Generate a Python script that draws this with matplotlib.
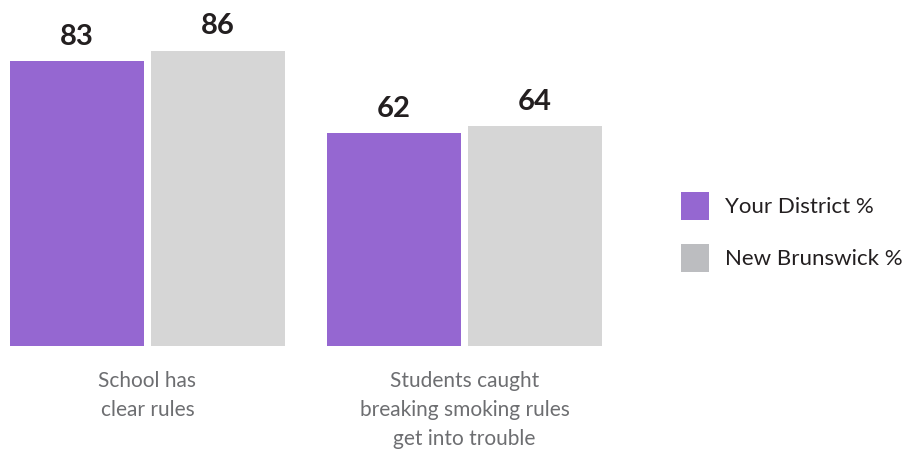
import matplotlib
matplotlib.use('Agg')
import matplotlib.pyplot as plt
from matplotlib.patches import Patch
import numpy as np

categories = ['School has\nclear rules', 'Students caught\nbreaking smoking rules\nget into trouble']
district = [83, 62]
new_brunswick = [86, 64]
series_names = ['Your District %', 'New Brunswick %']

purple = '#9567d1'
bar_grey = '#d6d6d6'
legend_grey = '#bcbdc0'

plt.rcParams['font.family'] = ['Lato', 'DejaVu Sans']

W, H = 908, 451
fig = plt.figure(figsize=(W / 100, H / 100), dpi=100)

# axes laid out in pixels: bottom of bars at y=346, group spacing 317px
base_px = 346
unit_px = 317.0
ax = fig.add_axes([0, (H - base_px) / H, 620 / W, base_px / H])
ax.set_xlim(-147.5 / unit_px, (620 - 147.5) / unit_px)
ax.set_ylim(0, base_px / 3.43)
ax.axis('off')

x = np.arange(len(categories))
width = 134 / unit_px
offset = 141 / 2 / unit_px

bars1 = ax.bar(x - offset, district, width, color=purple)
bars2 = ax.bar(x + offset, new_brunswick, width, color=bar_grey)

for bars, vals in ((bars1, district), (bars2, new_brunswick)):
    for b, v in zip(bars, vals):
        ax.annotate(str(v), (b.get_x() + b.get_width() / 2, v),
                    xytext=(0, 12), textcoords='offset points',
                    ha='center', va='baseline', fontsize=21,
                    fontweight='bold', color='#231f20')

for xi, label in zip(x, categories):
    ax.annotate(label, (xi, 0), xycoords=('data', 'axes fraction'),
                xytext=(0, -18), textcoords='offset points',
                ha='center', va='top', fontsize=15, color='#6d6e71',
                linespacing=1.55)

handles = [Patch(facecolor=purple), Patch(facecolor=legend_grey)]
fig.legend(handles, series_names, loc='upper left',
           bbox_to_anchor=(681 / W, 1 - 192 / H), frameon=False,
           fontsize=16, handlelength=1.26, handleheight=1.56,
           handletextpad=0.7, labelspacing=1.08, borderpad=0,
           borderaxespad=0, labelcolor='#231f20')

fig.savefig('out.png', dpi=100)
